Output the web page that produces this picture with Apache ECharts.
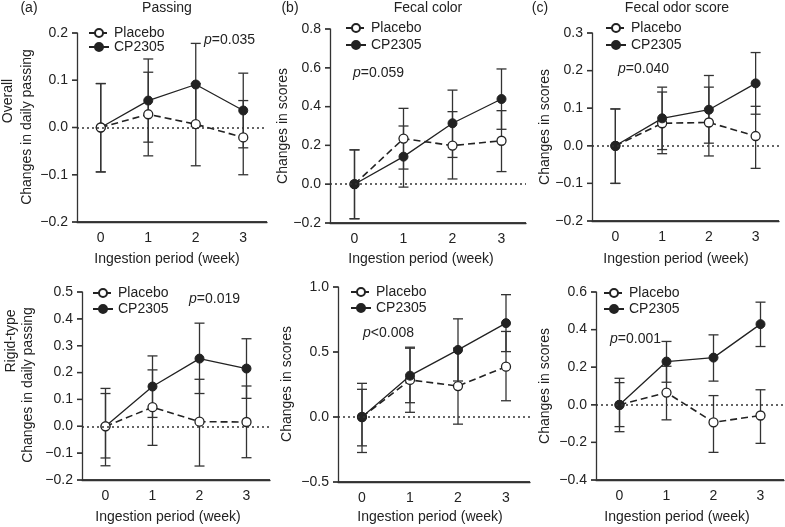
<!DOCTYPE html>
<html>
<head>
<meta charset="utf-8">
<script src="https://cdn.jsdelivr.net/npm/echarts@6/dist/echarts.min.js"></script>
<style>html,body{margin:0;padding:0;background:#fff;}#c{width:785px;height:527px;}</style>
</head>
<body>
<div id="c"></div>
<script>
// ---------- data ----------
const weeks = ['0', '1', '2', '3'];
const seriesNames = ['Placebo', 'CP2305'];

// (a) Passing – overall
const placeboA = [0, 0.028, 0.007, -0.021];
const placeboA_lo = [-0.094, -0.060, -0.081, -0.100];
const placeboA_hi = [0.093, 0.117, 0.093, 0.057];
const cpA = [0, 0.057, 0.091, 0.036];
const cpA_lo = [-0.094, -0.031, 0.002, -0.043];
const cpA_hi = [0.093, 0.145, 0.178, 0.115];

// (b) Fecal color – overall
const placeboB = [0, 0.235, 0.199, 0.224];
const placeboB_lo = [-0.178, 0.078, 0.027, 0.065];
const placeboB_hi = [0.177, 0.391, 0.374, 0.379];
const cpB = [0, 0.142, 0.314, 0.439];
const cpB_lo = [-0.178, -0.015, 0.138, 0.283];
const cpB_hi = [0.177, 0.300, 0.485, 0.594];

// (c) Fecal odor score – overall
const placeboC = [0, 0.060, 0.062, 0.026];
const placeboC_lo = [-0.100, -0.021, -0.027, -0.060];
const placeboC_hi = [0.098, 0.143, 0.156, 0.105];
const cpC = [0, 0.073, 0.096, 0.166];
const cpC_lo = [-0.100, -0.010, 0.007, 0.084];
const cpC_hi = [0.098, 0.156, 0.187, 0.248];

// (a) Passing – rigid-type
const placeboD = [0, 0.071, 0.017, 0.016];
const placeboD_lo = [-0.147, -0.071, -0.148, -0.117];
const placeboD_hi = [0.141, 0.210, 0.175, 0.150];
const cpD = [0, 0.148, 0.252, 0.215];
const cpD_lo = [-0.118, 0.033, 0.122, 0.104];
const cpD_hi = [0.122, 0.262, 0.384, 0.326];

// (b) Fecal color – rigid-type
const placeboE = [0, 0.285, 0.238, 0.387];
const placeboE_lo = [-0.273, 0.036, -0.055, 0.125];
const placeboE_hi = [0.259, 0.537, 0.530, 0.658];
const cpE = [0, 0.318, 0.516, 0.722];
const cpE_lo = [-0.222, 0.110, 0.277, 0.503];
const cpE_hi = [0.213, 0.529, 0.755, 0.941];

// (c) Fecal odor score – rigid-type
const placeboF = [0, 0.065, -0.093, -0.057];
const placeboF_lo = [-0.143, -0.080, -0.253, -0.205];
const placeboF_hi = [0.141, 0.205, 0.049, 0.080];
const cpF = [0, 0.230, 0.251, 0.429];
const cpF_lo = [-0.116, 0.120, 0.126, 0.310];
const cpF_hi = [0.118, 0.337, 0.372, 0.546];

// axis ranges (tick labels are generated from these)
const yMin = [-0.2, -0.2, -0.2, -0.2, -0.5, -0.4];
const yMax = [0.2, 0.8, 0.3, 0.5, 1.0, 0.6];
const yStep = [0.1, 0.2, 0.1, 0.1, 0.5, 0.2];

const pLabels = ['p=0.035', 'p=0.059', 'p=0.040', 'p=0.019', 'p<0.008', 'p=0.001'];
const panelTags = ['(a)', '(b)', '(c)'];
const panelTitles = ['Passing', 'Fecal color', 'Fecal odor score'];
const rowLabels = ['Overall', 'Rigid-type'];
const yNames = ['Changes in daily passing', 'Changes in scores', 'Changes in scores',
                'Changes in daily passing', 'Changes in scores', 'Changes in scores'];
const xName = 'Ingestion period (week)';

// ---------- layout ----------
const FONT = "'Liberation Sans', Arial, Helvetica, sans-serif";
const INK = '#222';
const AXIS = '#333';
const grids = [
  {left: 77, top: 33, width: 190, height: 189},
  {left: 330, top: 29, width: 196, height: 194},
  {left: 592, top: 33, width: 187, height: 188},
  {left: 82, top: 292, width: 188, height: 188},
  {left: 338, top: 287, width: 192, height: 195},
  {left: 596, top: 292, width: 188, height: 188}
];
const legendPos = [
  {left: 88, top: 26, gap: 0},
  {left: 345, top: 21, gap: 3},
  {left: 605, top: 21, gap: 3},
  {left: 92, top: 286, gap: 2},
  {left: 350, top: 285, gap: 2},
  {left: 603, top: 286, gap: 2}
];
const pPos = [[204, 40], [353, 73], [618, 69], [189, 299], [363, 333], [610, 339]];
const yNamePos = [[27, 127], [283, 126], [545, 127], [28, 385], [287, 384], [545, 386]];
const xNamePos = [[167, 259], [421, 259], [676, 259], [168, 517], [430, 517], [677, 517]];
const placeboOnTop = [true, false, false, true, false, false];

const panels = [
  [placeboA, placeboA_lo, placeboA_hi, cpA, cpA_lo, cpA_hi],
  [placeboB, placeboB_lo, placeboB_hi, cpB, cpB_lo, cpB_hi],
  [placeboC, placeboC_lo, placeboC_hi, cpC, cpC_lo, cpC_hi],
  [placeboD, placeboD_lo, placeboD_hi, cpD, cpD_lo, cpD_hi],
  [placeboE, placeboE_lo, placeboE_hi, cpE, cpE_lo, cpE_hi],
  [placeboF, placeboF_lo, placeboF_hi, cpF, cpF_lo, cpF_hi]
];

function fmt(v) {
  const r = Math.round(v * 10) / 10;
  if (Math.abs(r) < 1e-9) return '0.0';
  return (r < 0 ? '\u2212' : '') + Math.abs(r).toFixed(1);
}

function renderErr(params, api) {
  const x = api.value(0), lo = api.value(1), hi = api.value(2);
  const a = api.coord([x, lo]);
  const b = api.coord([x, hi]);
  const w = 5;
  const st = {stroke: AXIS, lineWidth: 1.3};
  return {
    type: 'group',
    children: [
      {type: 'line', shape: {x1: a[0], y1: a[1], x2: b[0], y2: b[1]}, style: st},
      {type: 'line', shape: {x1: a[0] - w, y1: a[1], x2: a[0] + w, y2: a[1]}, style: st},
      {type: 'line', shape: {x1: b[0] - w, y1: b[1], x2: b[0] + w, y2: b[1]}, style: st}
    ]
  };
}

// axis frame (baseline + y ticks), positioned only through api.coord / api.size
function makeAxisRender(i) {
  return function (params, api) {
    const st = {stroke: AXIS, lineWidth: 1.3};
    const bw = api.size([1, 0])[0];
    const p0 = api.coord([0, yMin[i]]);
    const p3 = api.coord([weeks.length - 1, yMin[i]]);
    const xl = p0[0] - bw / 2, xr = p3[0] + bw / 2;
    const children = [
      {type: 'line', shape: {x1: xl, y1: p0[1], x2: xr, y2: p0[1]}, style: st}
    ];
    const n = Math.round((yMax[i] - yMin[i]) / yStep[i]);
    for (let k = 0; k <= n; k++) {
      const y = api.coord([0, yMin[i] + k * yStep[i]])[1];
      children.push({type: 'line', shape: {x1: xl - 5, y1: y, x2: xl, y2: y}, style: st});
    }
    return {type: 'group', children: children};
  };
}

const xAxes = [], yAxes = [], series = [], legends = [], graphics = [];

panels.forEach((p, i) => {
  xAxes.push({
    gridIndex: i, type: 'category', data: weeks, boundaryGap: true, position: 'bottom',
    axisLine: {show: true, onZero: false, lineStyle: {color: AXIS, width: 1.3}},
    axisTick: {show: false},
    axisLabel: {color: INK, fontSize: 14, fontFamily: FONT, margin: 9},
    splitLine: {show: false}
  });
  yAxes.push({
    gridIndex: i, type: 'value', min: yMin[i], max: yMax[i], interval: yStep[i], position: 'left',
    axisLine: {show: true, onZero: false, lineStyle: {color: AXIS, width: 1.3}},
    axisTick: {show: false},
    axisLabel: {color: INK, fontSize: 14, fontFamily: FONT, margin: 9, formatter: fmt},
    splitLine: {show: false}
  });
  const [pl, plLo, plHi, cp, cpLo, cpHi] = p;
  const zPl = placeboOnTop[i] ? 4 : 3;
  const zCp = placeboOnTop[i] ? 3 : 4;
  series.push({
    name: 'axis frame', type: 'custom', xAxisIndex: i, yAxisIndex: i, z: 10, clip: false,
    renderItem: makeAxisRender(i), encode: {x: 0, y: 1}, silent: true,
    data: [[0, 0]]
  });
  series.push({
    name: 'Placebo err', type: 'custom', xAxisIndex: i, yAxisIndex: i, z: 1,
    renderItem: renderErr, encode: {x: 0, y: [1, 2]}, silent: true,
    data: weeks.map((w, k) => [k, plLo[k], plHi[k]])
  });
  series.push({
    name: 'CP2305 err', type: 'custom', xAxisIndex: i, yAxisIndex: i, z: 1,
    renderItem: renderErr, encode: {x: 0, y: [1, 2]}, silent: true,
    data: weeks.map((w, k) => [k, cpLo[k], cpHi[k]])
  });
  series.push({
    name: 'CP2305', type: 'line', xAxisIndex: i, yAxisIndex: i, z: zCp,
    data: cp, symbol: 'circle', symbolSize: 9, showAllSymbol: true,
    lineStyle: {color: INK, width: 1.3, type: 'solid'},
    itemStyle: {color: INK, borderColor: INK, borderWidth: 1},
    emphasis: {disabled: true}, animation: false,
    markLine: {
      silent: true, symbol: 'none', label: {show: false}, animation: false,
      lineStyle: {color: AXIS, width: 1.7, type: [2, 3]},
      data: [{yAxis: 0}]
    }
  });
  series.push({
    name: 'Placebo', type: 'line', xAxisIndex: i, yAxisIndex: i, z: zPl,
    data: pl, symbol: 'circle', symbolSize: 9, showAllSymbol: true,
    lineStyle: {color: INK, width: 1.6, type: [7, 4]},
    itemStyle: {color: '#fff', borderColor: INK, borderWidth: 1.3},
    emphasis: {disabled: true}, animation: false
  });
  legends.push({
    data: seriesNames, orient: 'vertical', left: legendPos[i].left, top: legendPos[i].top,
    itemGap: legendPos[i].gap, itemWidth: 20, itemHeight: 10, padding: 0,
    selectedMode: false,
    textStyle: {color: INK, fontSize: 14, fontFamily: FONT}
  });
  graphics.push({
    type: 'text', x: pPos[i][0], y: pPos[i][1], silent: true,
    style: {
      text: '{i|' + pLabels[i].charAt(0) + '}' + pLabels[i].slice(1),
      rich: {i: {fontStyle: 'italic', fontSize: 14, fontFamily: FONT, fill: INK}},
      fontSize: 14, fontFamily: FONT, fill: INK, align: 'left', verticalAlign: 'middle'
    }
  });
  graphics.push({
    type: 'text', x: yNamePos[i][0], y: yNamePos[i][1], rotation: Math.PI / 2, silent: true,
    style: {text: yNames[i], fontSize: 14, fontFamily: FONT, fill: INK, align: 'center', verticalAlign: 'middle'}
  });
  graphics.push({
    type: 'text', x: xNamePos[i][0], y: xNamePos[i][1], silent: true,
    style: {text: xName, fontSize: 14, fontFamily: FONT, fill: INK, align: 'center', verticalAlign: 'middle'}
  });
});

const tagX = [29, 290, 540];
const titleX = [167, 428, 677];
for (let j = 0; j < 3; j++) {
  graphics.push({type: 'text', x: tagX[j], y: 8, silent: true,
    style: {text: panelTags[j], fontSize: 14, fontFamily: FONT, fill: INK, align: 'center', verticalAlign: 'middle'}});
  graphics.push({type: 'text', x: titleX[j], y: 8, silent: true,
    style: {text: panelTitles[j], fontSize: 14, fontFamily: FONT, fill: INK, align: 'center', verticalAlign: 'middle'}});
}
graphics.push({type: 'text', x: 8, y: 101, rotation: Math.PI / 2, silent: true,
  style: {text: rowLabels[0], fontSize: 14, fontFamily: FONT, fill: INK, align: 'center', verticalAlign: 'middle'}});
graphics.push({type: 'text', x: 11, y: 341, rotation: Math.PI / 2, silent: true,
  style: {text: rowLabels[1], fontSize: 14, fontFamily: FONT, fill: INK, align: 'center', verticalAlign: 'middle'}});

const chart = echarts.init(document.getElementById('c'), null, {renderer: 'canvas'});
chart.setOption({
  animation: false,
  backgroundColor: '#fff',
  grid: grids,
  xAxis: xAxes,
  yAxis: yAxes,
  legend: legends,
  series: series,
  graphic: {elements: graphics}
});

// extra safety: baseline + y ticks as graphic lines, located through the library's own scales
const frameLines = [];
panels.forEach((p, i) => {
  const finder = {xAxisIndex: i, yAxisIndex: i};
  const a = chart.convertToPixel(finder, [0, yMin[i]]);
  const b = chart.convertToPixel(finder, [weeks.length - 1, yMin[i]]);
  const c = chart.convertToPixel(finder, [1, yMin[i]]);
  if (!a || !b || !c) return;
  const bw = c[0] - a[0];
  const xl = a[0] - bw / 2, xr = b[0] + bw / 2;
  frameLines.push({type: 'line', silent: true, z: 50,
    shape: {x1: xl, y1: a[1], x2: xr, y2: a[1]}, style: {stroke: AXIS, lineWidth: 1.3}});
  const n = Math.round((yMax[i] - yMin[i]) / yStep[i]);
  for (let k = 0; k <= n; k++) {
    const q = chart.convertToPixel(finder, [0, yMin[i] + k * yStep[i]]);
    frameLines.push({type: 'line', silent: true, z: 50,
      shape: {x1: xl - 5, y1: q[1], x2: xl, y2: q[1]}, style: {stroke: AXIS, lineWidth: 1.3}});
  }
});
chart.setOption({graphic: {elements: graphics.concat(frameLines)}}, {replaceMerge: ['graphic']});
</script>
</body>
</html>
